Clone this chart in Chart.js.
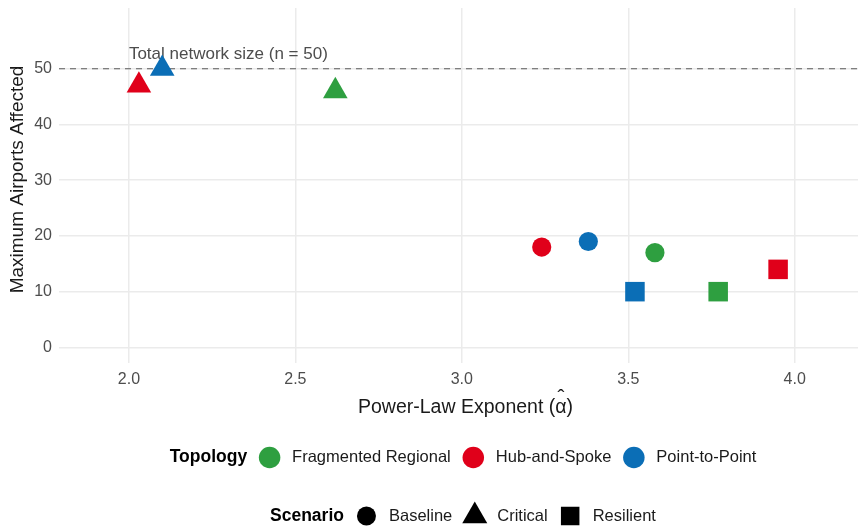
<!DOCTYPE html>
<html>
<head>
<meta charset="utf-8">
<script src="https://cdn.jsdelivr.net/npm/chart.js@4.4.1/dist/chart.umd.min.js"></script>
<style>
  html, body { margin: 0; padding: 0; background: #ffffff; }
  #wrap { width: 858px; height: 527px; }
</style>
</head>
<body>
<div id="wrap"><canvas id="c" width="858" height="527"></canvas></div>
<script>
// Topologies (colour) and scenarios (shape)
const topologies = ['Fragmented Regional', 'Hub-and-Spoke', 'Point-to-Point'];
const topologyColors = ['#2E9F40', '#E0001A', '#0B6EB6'];
const scenarios = ['Baseline', 'Critical', 'Resilient'];
const scenarioShapes = ['circle', 'triangle', 'rect'];

// Estimated power-law exponent and max airports affected, ordered by scenario
const alphaFragmented = [3.58, 2.62, 3.77];
const affectedFragmented = [17, 46, 10];
const alphaHub = [3.24, 2.03, 3.95];
const affectedHub = [18, 47, 14];
const alphaP2P = [3.38, 2.10, 3.52];
const affectedP2P = [19, 50, 10];

const networkSize = 50;
const networkLabel = 'Total network size (n = 50)';
const xTicks = [2.0, 2.5, 3.0, 3.5, 4.0];
const yTicks = [0, 10, 20, 30, 40, 50];
const xTitleParts = ['Power-Law Exponent (', 'α', ')'];
const yTitle = 'Maximum Airports Affected';

const FONT = '"Liberation Sans", Arial, Helvetica, sans-serif';
const shapeRadius = { circle: 9.6, triangle: 14.2, rect: 13.8 };

function makeDataset(i, xs, ys) {
  return {
    label: topologies[i],
    data: xs.map((x, k) => ({ x: x, y: ys[k] })),
    pointStyle: scenarioShapes,
    pointRadius: scenarioShapes.map(s => shapeRadius[s]),
    pointHoverRadius: scenarioShapes.map(s => shapeRadius[s]),
    backgroundColor: topologyColors[i],
    borderColor: topologyColors[i],
    borderWidth: 0,
    pointBorderWidth: 0
  };
}

// Dashed reference line at total network size, with its label
const refLine = {
  id: 'refLine',
  beforeDatasetsDraw(chart) {
    const { ctx, chartArea, scales } = chart;
    const y = scales.y.getPixelForValue(networkSize);
    ctx.save();
    ctx.strokeStyle = '#5c5c5c';
    ctx.lineWidth = 1.1;
    ctx.setLineDash([6, 5]);
    ctx.beginPath();
    ctx.moveTo(chartArea.left, y);
    ctx.lineTo(chartArea.right, y);
    ctx.stroke();
    ctx.setLineDash([]);
    ctx.fillStyle = '#4d4d4d';
    ctx.font = '17px ' + FONT;
    ctx.textAlign = 'left';
    ctx.textBaseline = 'alphabetic';
    ctx.fillText(networkLabel, scales.x.getPixelForValue(xTicks[0]), y - 10);
    ctx.restore();
  }
};

// Axis titles; the x title carries a hat over alpha
const axisTitles = {
  id: 'axisTitles',
  afterDraw(chart) {
    const { ctx, chartArea } = chart;
    ctx.save();
    ctx.fillStyle = '#1a1a1a';
    ctx.font = '19.5px ' + FONT;
    ctx.textBaseline = 'alphabetic';
    ctx.textAlign = 'left';
    const widths = xTitleParts.map(p => ctx.measureText(p).width);
    const total = widths.reduce((a, b) => a + b, 0);
    let x = (chartArea.left + chartArea.right) / 2 + 7 - total / 2;
    const base = chartArea.bottom + 49.5;
    xTitleParts.forEach((p, i) => {
      ctx.fillText(p, x, base);
      if (p === 'α') {
        ctx.textAlign = 'center';
        ctx.font = '21px ' + FONT;
        ctx.fillText('ˆ', x + widths[i] / 2, base - 9);
        ctx.font = '19.5px ' + FONT;
        ctx.textAlign = 'left';
      }
      x += widths[i];
    });
    ctx.font = '19px ' + FONT;
    ctx.translate(18, (chartArea.top + chartArea.bottom) / 2 - 6);
    ctx.rotate(-Math.PI / 2);
    ctx.textAlign = 'center';
    ctx.textBaseline = 'middle';
    ctx.fillText(yTitle, 0, 0);
    ctx.restore();
  }
};

function drawShape(ctx, shape, cx, cy, size) {
  ctx.beginPath();
  if (shape === 'circle') {
    ctx.arc(cx, cy, size / 2, 0, Math.PI * 2);
  } else if (shape === 'triangle') {
    const r = size / Math.sqrt(3);
    ctx.moveTo(cx, cy - r);
    ctx.lineTo(cx + size / 2, cy + r / 2);
    ctx.lineTo(cx - size / 2, cy + r / 2);
    ctx.closePath();
  } else {
    ctx.rect(cx - size / 2, cy - size / 2, size, size);
  }
  ctx.fill();
}

// Two legend rows below the plot: colour by topology, shape by scenario
const legendRows = {
  id: 'legendRows',
  afterDraw(chart) {
    const ctx = chart.ctx;
    const centerX = 463;
    const titleFont = 'bold 17.5px ' + FONT;
    const labelFont = '16.5px ' + FONT;
    const rows = [
      { y: 457.5, title: 'Topology', labels: topologies,
        keys: topologies.map((t, i) => ({ shape: 'circle', color: topologyColors[i], size: 21.5 })) },
      { y: 516, title: 'Scenario', labels: scenarios,
        keys: scenarioShapes.map(s => ({ shape: s, color: '#000000', size: s === 'triangle' ? 25 : (s === 'rect' ? 18.5 : 19) })) }
    ];
    const toKey = 22.5, toLabel = 22.5;
    ctx.save();
    ctx.textBaseline = 'middle';
    ctx.textAlign = 'left';
    rows.forEach(row => {
      ctx.font = titleFont;
      const tw = ctx.measureText(row.title).width;
      ctx.font = labelFont;
      const lw = row.labels.map(l => ctx.measureText(l).width);
      let total = tw;
      lw.forEach(w => { total += toKey + toLabel + w; });
      let x = centerX - total / 2;
      ctx.font = titleFont;
      ctx.fillStyle = '#000000';
      ctx.fillText(row.title, x, row.y);
      x += tw;
      row.labels.forEach((label, i) => {
        const k = row.keys[i];
        const kx = x + toKey;
        ctx.fillStyle = k.color;
        drawShape(ctx, k.shape, kx, row.y, k.size);
        ctx.font = labelFont;
        ctx.fillStyle = '#1a1a1a';
        ctx.fillText(label, kx + toLabel, row.y);
        x = kx + toLabel + lw[i];
      });
    });
    ctx.restore();
  }
};

const tickFont = { family: FONT, size: 16 };

new Chart(document.getElementById('c'), {
  type: 'scatter',
  data: {
    datasets: [
      makeDataset(0, alphaFragmented, affectedFragmented),
      makeDataset(1, alphaHub, affectedHub),
      makeDataset(2, alphaP2P, affectedP2P)
    ]
  },
  options: {
    responsive: false,
    animation: false,
    devicePixelRatio: 1,
    layout: { autoPadding: false, padding: { top: 8, right: 0, bottom: 104, left: 0 } },
    plugins: { legend: { display: false }, tooltip: { enabled: false } },
    scales: {
      x: {
        type: 'linear',
        min: 1.79,
        max: 4.19,
        afterBuildTicks: axis => { axis.ticks = xTicks.map(v => ({ value: v })); },
        afterFit: s => { s.height = 60; s.paddingLeft = 0; s.paddingRight = 0; },
        ticks: { font: tickFont, color: '#4d4d4d', padding: 7, maxRotation: 0, autoSkip: false,
                 callback: v => Number(v).toFixed(1) },
        grid: { color: '#EBEBEB', lineWidth: 1.5, drawTicks: false },
        border: { display: false }
      },
      y: {
        type: 'linear',
        min: -2.8,
        max: 60.9,
        afterBuildTicks: axis => { axis.ticks = yTicks.map(v => ({ value: v })); },
        afterFit: s => { s.width = 59; s.paddingTop = 0; s.paddingBottom = 0; },
        ticks: { font: tickFont, color: '#4d4d4d', padding: 7, autoSkip: false },
        grid: { color: '#EBEBEB', lineWidth: 1.5, drawTicks: false },
        border: { display: false }
      }
    }
  },
  plugins: [refLine, axisTitles, legendRows]
});
</script>
</body>
</html>
